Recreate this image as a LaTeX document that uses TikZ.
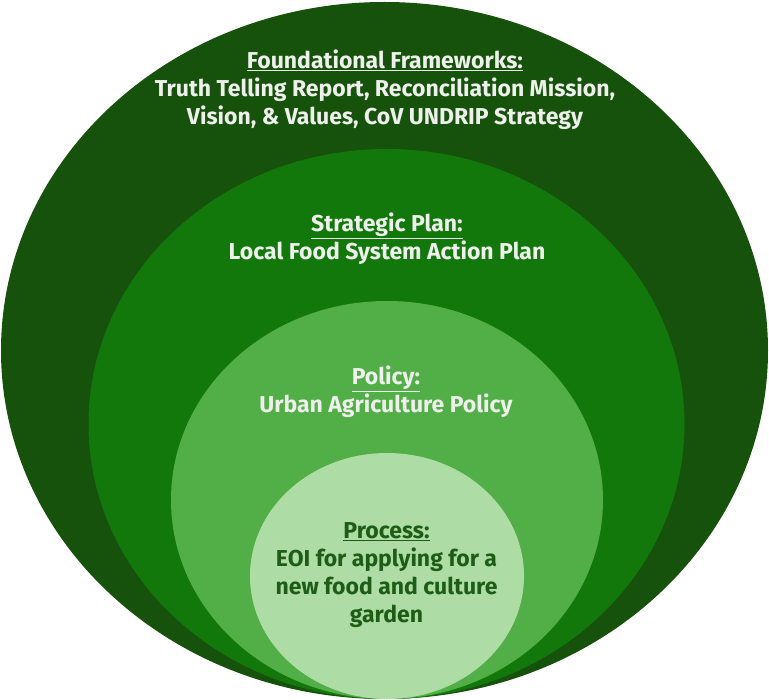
\documentclass[tikz,border=0pt]{standalone}
\usepackage{fontspec}
\setmainfont{Fira Sans}
\usepackage{tikz}
\definecolor{ringdark}{RGB}{22, 82, 11}
\definecolor{ringmid}{RGB}{19, 120, 11}
\definecolor{ringlight}{RGB}{82, 174, 71}
\definecolor{ringpale}{RGB}{173, 220, 165}
\definecolor{textpale}{RGB}{238, 240, 236}
\definecolor{textdark}{RGB}{30, 92, 23}

\tikzset{
  ringtext/.style={align=center, inner sep=0pt, text=textpale,
    font=\fontsize{23}{28}\selectfont\bfseries}
}

\begin{document}
\begin{tikzpicture}[x=1pt, y=-1pt]
  \useasboundingbox (0,0) rectangle (769,700);
  % nested rings, all resting on the same bottom point
  \fill[ringdark]  (384.5,350.5) ellipse [x radius=383.5, y radius=348.5];
  \fill[ringmid]   (386.5,424)   ellipse [x radius=298, y radius=275];
  \fill[ringlight] (387,500)     ellipse [x radius=216, y radius=199];
  \fill[ringpale]  (387,576)     ellipse [x radius=137, y radius=123];
  % labels
  \node[ringtext] (frameworks) at (385,90)
    {\underline{Foundational Frameworks:}\\
     Truth Telling Report, Reconciliation Mission,\\
     Vision, \& Values, CoV UNDRIP Strategy};
  \node[ringtext] (strategy) at (387,239)
    {\underline{Strategic Plan:}\\ Local Food System Action Plan};
  \node[ringtext] (policy) at (386,391.5)
    {\underline{Policy:}\\ Urban Agriculture Policy};
  \node[ringtext, text=textdark] (process) at (386.5,575)
    {\underline{Process:}\\ EOI for applying for a\\ new food and culture\\ garden};
\end{tikzpicture}
\end{document}
